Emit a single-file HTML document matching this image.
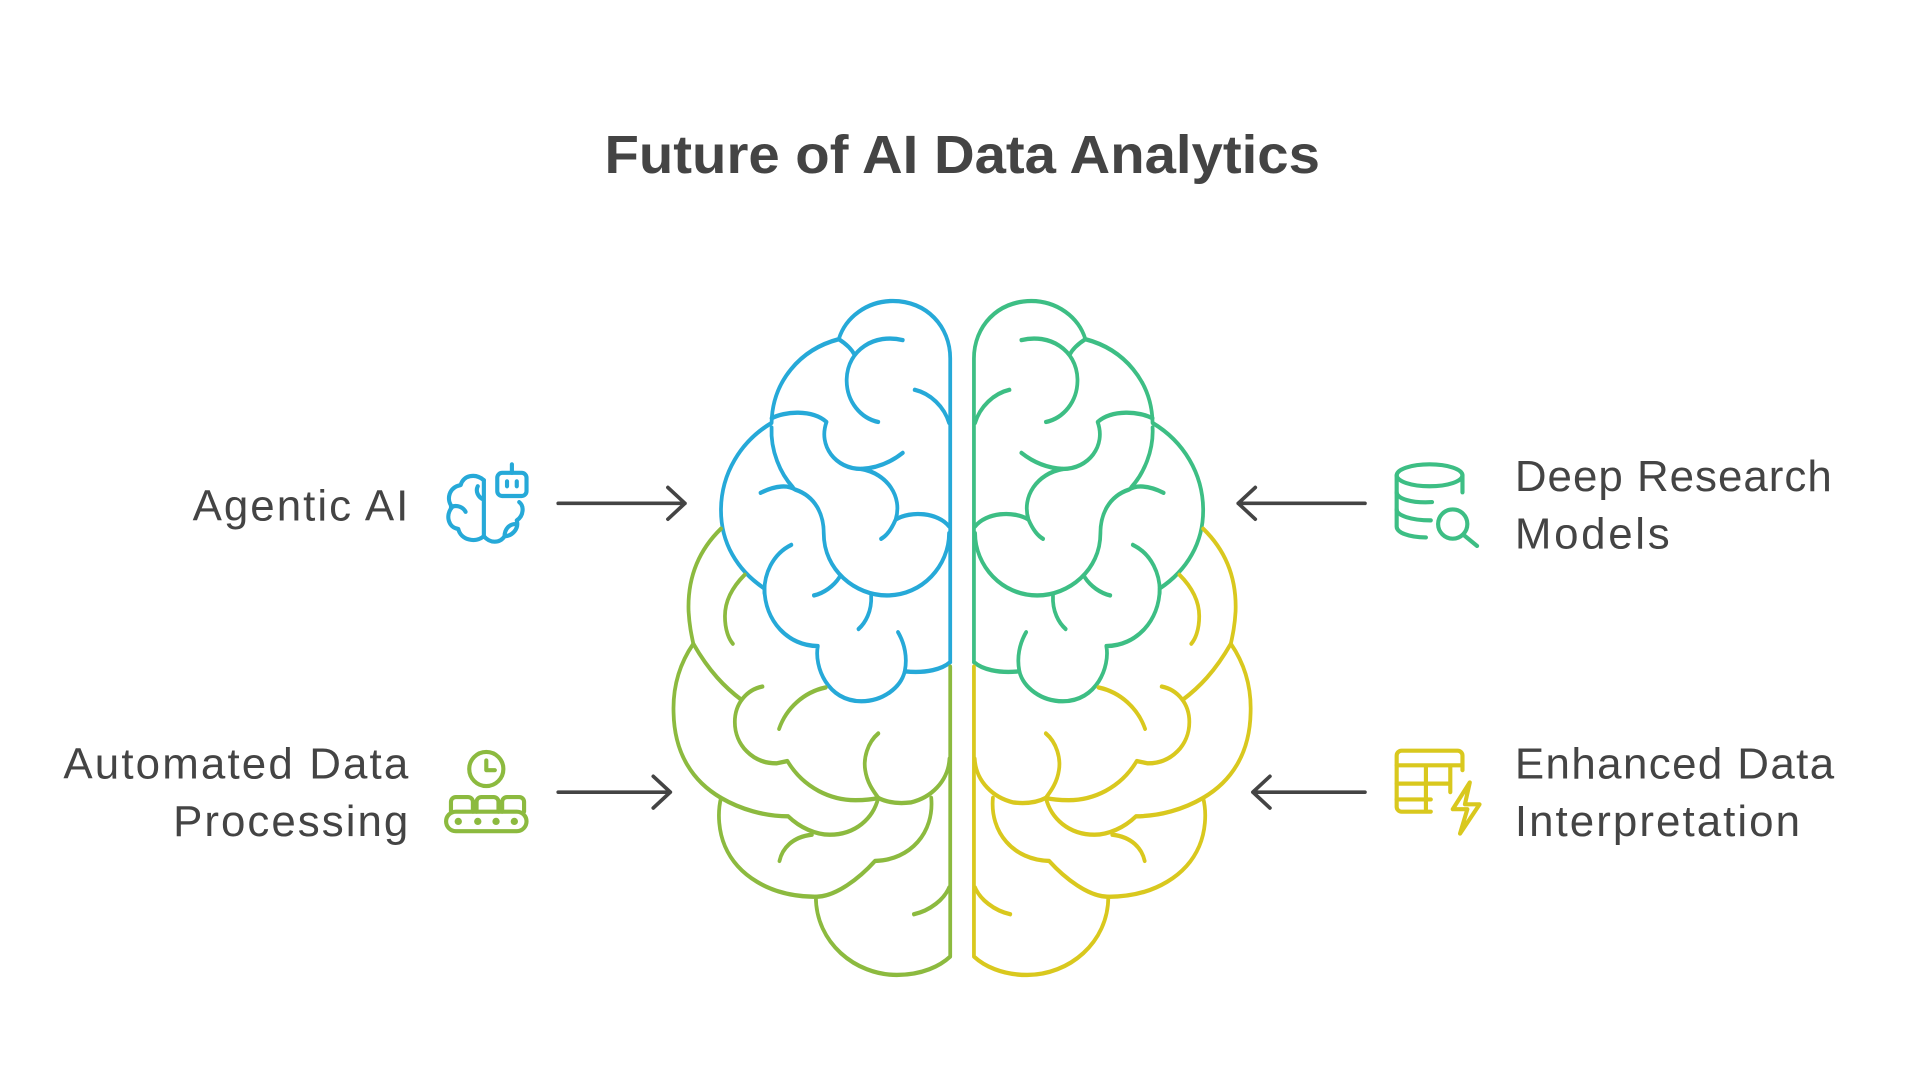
<!DOCTYPE html>
<html><head><meta charset="utf-8"><style>html,body{margin:0;padding:0;background:#fff}svg{display:block}</style></head>
<body>
<svg width="1911" height="1090" viewBox="0 0 1568 894.4" xmlns="http://www.w3.org/2000/svg" font-family="'Liberation Sans', sans-serif">
<rect width="1568" height="894.4" fill="#fff"/>
<text x="496" y="142" font-size="44" font-weight="bold" fill="#444" textLength="587" lengthAdjust="spacingAndGlyphs">Future of AI Data Analytics</text>
<g font-size="36" fill="#444" lengthAdjust="spacingAndGlyphs">
<text x="158" y="427" textLength="177">Agentic AI</text>
<text x="52" y="639" textLength="283">Automated Data</text>
<text x="142" y="686" textLength="193">Processing</text>
<text x="1243" y="403" textLength="260">Deep Research</text>
<text x="1243" y="450" textLength="127">Models</text>
<text x="1243" y="639" textLength="262">Enhanced Data</text>
<text x="1243" y="686" textLength="234">Interpretation</text>
</g>
<g stroke="#444" stroke-width="3" fill="none" stroke-linecap="round" stroke-linejoin="round">
<path d="M458 413H562M548 400L562 413L548 426"/>
<path d="M458 650H550M536 637L550 650L536 663"/>
<path d="M1120 413H1016M1030 400L1016 413L1030 426"/>
<path d="M1120 650H1028M1042 637L1028 650L1042 663"/>
</g>
<g fill="none" stroke-width="3.4" stroke-linecap="round" stroke-linejoin="round">
<g stroke="#26A9D8">
<path d="M397 394C390 388 380 390 378 398C368 400 366 410 371 416C365 423 368 433 376 434C378 443 390 446 397 440C402 446 410 446 414 440C420 440 426 434 424 427C430 423 430 415 426 412"/>
<path d="M397 394V440M397 410C392 408 390 403 392 399"/>
<path d="M370 416C375 414 380 416 382 420M414 440C414 434 418 430 423 430"/>
<rect x="408" y="388" width="24" height="19" rx="4"/>
<path d="M420 388V381"/>
<path d="M416 395V399M424 395V399"/>
</g>
<g stroke="#8CBA3F">
<circle cx="399" cy="631" r="14"/>
<path d="M399 624V632H406"/>
<rect x="366" y="666" width="66" height="16" rx="8"/>
<path d="M370 666V658a4 4 0 0 1 4-4h10a4 4 0 0 1 4 4v8M391 666V658a4 4 0 0 1 4-4h10a4 4 0 0 1 4 4v8M412 666V658a4 4 0 0 1 4-4h10a4 4 0 0 1 4 4v8"/>
</g>
<g fill="#8CBA3F" stroke="none"><circle cx="376" cy="674" r="3"/><circle cx="392" cy="674" r="3"/><circle cx="407" cy="674" r="3"/><circle cx="422" cy="674" r="3"/></g>
<g stroke="#3DBE84">
<ellipse cx="1173" cy="390" rx="27" ry="9"/>
<path d="M1146 390V432C1146 437 1156 441 1170 441M1200 390V404"/>
<path d="M1146 404C1146 409 1158 413 1175 412M1146 418C1146 423 1158 427 1174 427"/>
<circle cx="1192" cy="430" r="12"/>
<path d="M1201 439L1212 448"/>
</g>
<g stroke="#D9C81E">
<path d="M1174 666H1150a4 4 0 0 1 -4-4V620a4 4 0 0 1 4-4H1196a4 4 0 0 1 4 4V632"/>
<path d="M1146 628H1200M1146 643H1190M1146 656H1174M1170 628V664M1190 628V650"/>
<path d="M1206 642L1192 664H1204L1198 684L1214 660H1202Z"/>
</g>
</g>
<defs>
<g id="top">
<path d="M760 830V170C760 100 700 45 615 45C550 45 495 80 478 128C380 150 310 220 308 310C230 350 180 420 180 500C180 570 220 630 290 670C290 740 350 795 425 795C415 840 450 915 535 915C590 915 635 885 645 850C700 855 740 845 760 830"/>
<path d="M478 128C500 140 512 152 518 162"/>
<path d="M640 130C570 115 500 150 498 215C497 265 535 300 578 308"/>
<path d="M670 238C710 246 745 275 757 310"/>
<path d="M308 300C340 285 410 280 447 308C425 360 470 410 535 410C580 408 615 392 640 375"/>
<path d="M535 410C600 420 640 470 622 520C660 500 730 505 757 535M622 520C612 540 600 555 585 562"/>
<path d="M308 320C305 370 330 420 362 450"/>
<path d="M280 462C320 445 350 445 368 455C420 470 440 510 440 550C440 630 520 685 600 685C690 685 757 620 757 550"/>
<path d="M358 575C310 595 288 640 290 680"/>
<path d="M415 685C440 680 465 665 480 645"/>
<path d="M560 685C562 720 545 745 528 758"/>
<path d="M628 765C645 790 652 820 645 850"/>
</g>
<g id="bot">
<path d="M180 540C120 590 95 650 98 720C100 750 105 770 110 790C70 840 58 890 60 940C62 1030 110 1090 180 1125C170 1160 175 1200 190 1230C220 1290 300 1340 420 1340C420 1440 520 1510 625 1510C690 1510 735 1490 760 1470V840"/>
<path d="M240 640C205 670 190 700 190 730C190 760 200 780 210 790"/>
<path d="M110 790C150 850 190 885 232 912"/>
<path d="M285 883C245 890 215 920 215 960C215 1010 260 1050 320 1050L348 1045C390 1105 460 1130 520 1130C545 1130 565 1128 578 1125C600 1135 630 1138 660 1135C710 1125 755 1090 758 1040"/>
<path d="M445 885C390 895 345 930 327 975"/>
<path d="M578 985C550 1005 540 1040 545 1065C550 1095 570 1115 578 1125"/>
<path d="M180 1125C230 1150 290 1165 350 1165C380 1190 420 1205 455 1205C520 1205 565 1170 578 1125"/>
<path d="M410 1205C360 1210 335 1235 328 1262"/>
<path d="M712 1125C720 1200 660 1260 570 1262C530 1300 470 1340 420 1340"/>
<path d="M668 1378C710 1370 745 1345 757 1320"/>
</g>
</defs>
<g transform="translate(533.2,230) scale(0.3243,0.3775)" fill="none" stroke-width="9.5" stroke-linecap="round" stroke-linejoin="round">
<use href="#top" stroke="#26A9D8"/>
<use href="#bot" stroke="#8CBA3F"/>
<g transform="translate(1580,0) scale(-1,1)">
<use href="#top" stroke="#3DBE84"/>
<use href="#bot" stroke="#D9C81E"/>
</g>
</g>
</svg>
</body></html>
